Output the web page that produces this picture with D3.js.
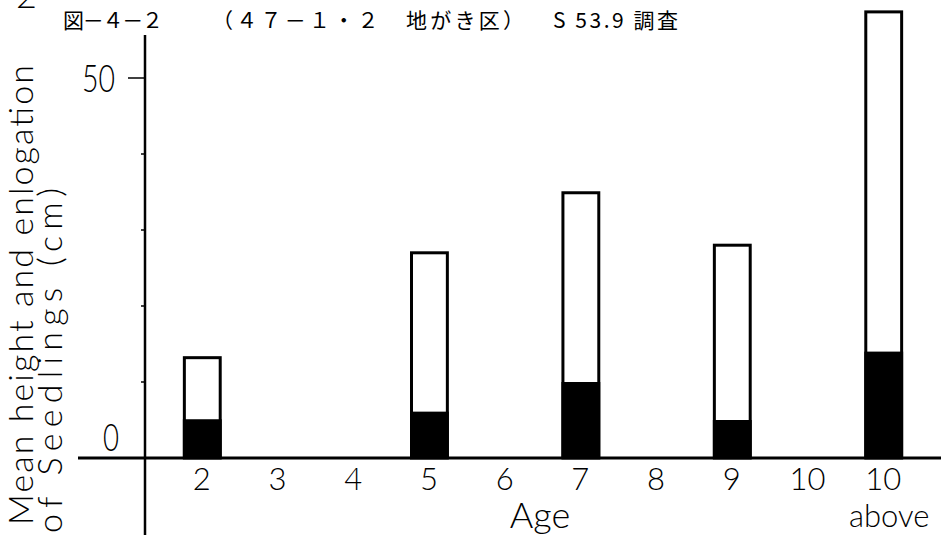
<!DOCTYPE html>
<html>
<head>
<meta charset="utf-8">
<script src="https://cdn.jsdelivr.net/npm/d3@7"></script>
<style>
  body { margin: 0; background: #fff; }
  svg { display: block; }
  .lbl { font-family: "Lato", "DejaVu Sans", sans-serif; font-weight: 300; fill: #000; }
  .jp { font-family: "Noto Sans CJK JP", sans-serif; fill: #000; }
</style>
</head>
<body>
<div id="chart"></div>
<script>
// chart data
var ages = ["2", "3", "4", "5", "6", "7", "8", "9", "10", "10 above"];
var meanHeight = [13.2, null, null, 27.0, null, 34.9, null, 28.0, null, 58.7];   // white bar top
var elongation = [5.1, null, null, 6.1, null, 10.0, null, 5.0, null, 14.0];      // black part
var yTicks = [0, 10, 20, 30, 40, 50];
var yTickLabels = [0, 50];
var headerTexts = ["図－４－２", "（４７－１・２　地がき区）", "S 53.9 調査"];

var width = 941, height = 535;
var axisX = 145, baseY = 458;

var svg = d3.select("#chart").append("svg")
    .attr("width", width)
    .attr("height", height);

var x = d3.scaleBand()
    .domain(ages)
    .range([axisX, 940])
    .paddingInner(0.5)
    .paddingOuter(0.5);

var y = d3.scaleLinear()
    .domain([0, 50])
    .range([baseY, 78]);

var rows = ages.map(function(a, i) {
    return {age: a, total: meanHeight[i], elong: elongation[i]};
}).filter(function(d) { return d.total != null; });

// bars: white outline for mean height, black for elongation
var bar = svg.selectAll(".bar")
    .data(rows)
    .enter()
    .append("g")
    .attr("class", "bar");

bar.append("rect")
    .attr("x", function(d) { return x(d.age) + 1.5; })
    .attr("y", function(d) { return y(d.total); })
    .attr("width", x.bandwidth() - 2)
    .attr("height", function(d) { return y(0) - y(d.total); })
    .attr("fill", "#fff")
    .attr("stroke", "#000")
    .attr("stroke-width", 3);

bar.append("rect")
    .attr("x", function(d) { return x(d.age); })
    .attr("y", function(d) { return y(d.elong); })
    .attr("width", x.bandwidth() + 1)
    .attr("height", function(d) { return y(0) - y(d.elong); })
    .attr("fill", "#000");

// axes lines
svg.append("line")
    .attr("x1", axisX).attr("x2", axisX)
    .attr("y1", 35).attr("y2", height)
    .attr("stroke", "#000").attr("stroke-width", 2.5);

svg.append("line")
    .attr("x1", 78).attr("x2", width)
    .attr("y1", baseY).attr("y2", baseY)
    .attr("stroke", "#000").attr("stroke-width", 3);

// y ticks
svg.selectAll(".ytick")
    .data(yTicks.filter(function(t) { return t > 0; }))
    .enter()
    .append("line")
    .attr("x1", function(d) { return d == 50 ? axisX - 17 : axisX - 4; })
    .attr("x2", axisX)
    .attr("y1", function(d) { return y(d); })
    .attr("y2", function(d) { return y(d); })
    .attr("stroke", "#000").attr("stroke-width", 1.5);

svg.selectAll(".ylab")
    .data(yTickLabels)
    .enter()
    .append("text")
    .attr("class", "lbl")
    .attr("x", function(d) { return d == 0 ? 103 : 82; })
    .attr("y", function(d) { return d == 0 ? y(d) - 7 : y(d) + 14; })
    .attr("font-size", 38)
    .attr("textLength", function(d) { return d == 0 ? 16 : 33; })
    .attr("lengthAdjust", "spacingAndGlyphs")
    .text(function(d) { return d; });

// x tick labels
svg.selectAll(".xlab")
    .data(ages)
    .enter()
    .append("text")
    .attr("class", "lbl")
    .attr("x", function(d) { return x(d) + x.bandwidth() / 2; })
    .attr("y", 490)
    .attr("text-anchor", "middle")
    .attr("font-size", 31)
    .text(function(d) { return d.split(" ")[0]; });

svg.append("text")
    .attr("class", "lbl")
    .attr("x", x("10 above") + x.bandwidth() / 2 + 6)
    .attr("y", 527)
    .attr("text-anchor", "middle")
    .attr("font-size", 31)
    .text("above");

svg.append("text")
    .attr("class", "lbl")
    .attr("x", 540)
    .attr("y", 528)
    .attr("text-anchor", "middle")
    .attr("font-size", 36)
    .text("Age");

// y title, two lines
svg.append("text")
    .attr("class", "lbl")
    .attr("transform", "translate(33,525) rotate(-90)")
    .attr("font-size", 34)
    .attr("textLength", 460)
    .attr("lengthAdjust", "spacing")
    .text("Mean height and enlogation");

svg.append("text")
    .attr("class", "lbl")
    .attr("transform", "translate(62,533) rotate(-90)")
    .attr("font-size", 34)
    .attr("textLength", 345)
    .attr("lengthAdjust", "spacing")
    .text("of Seedlings (cm)");

// header
svg.append("text")
    .attr("class", "lbl")
    .attr("x", 16).attr("y", 8)
    .attr("font-size", 36)
    .text("2");

var headerX = [63, 212, 553];
var headerLen = [100, 312, 125];
svg.selectAll(".hdr")
    .data(headerTexts)
    .enter()
    .append("text")
    .attr("class", "jp")
    .attr("x", function(d, i) { return headerX[i]; })
    .attr("y", 28)
    .attr("font-size", 21)
    .attr("textLength", function(d, i) { return headerLen[i]; })
    .attr("lengthAdjust", "spacing")
    .text(function(d) { return d; });
</script>
</body>
</html>
